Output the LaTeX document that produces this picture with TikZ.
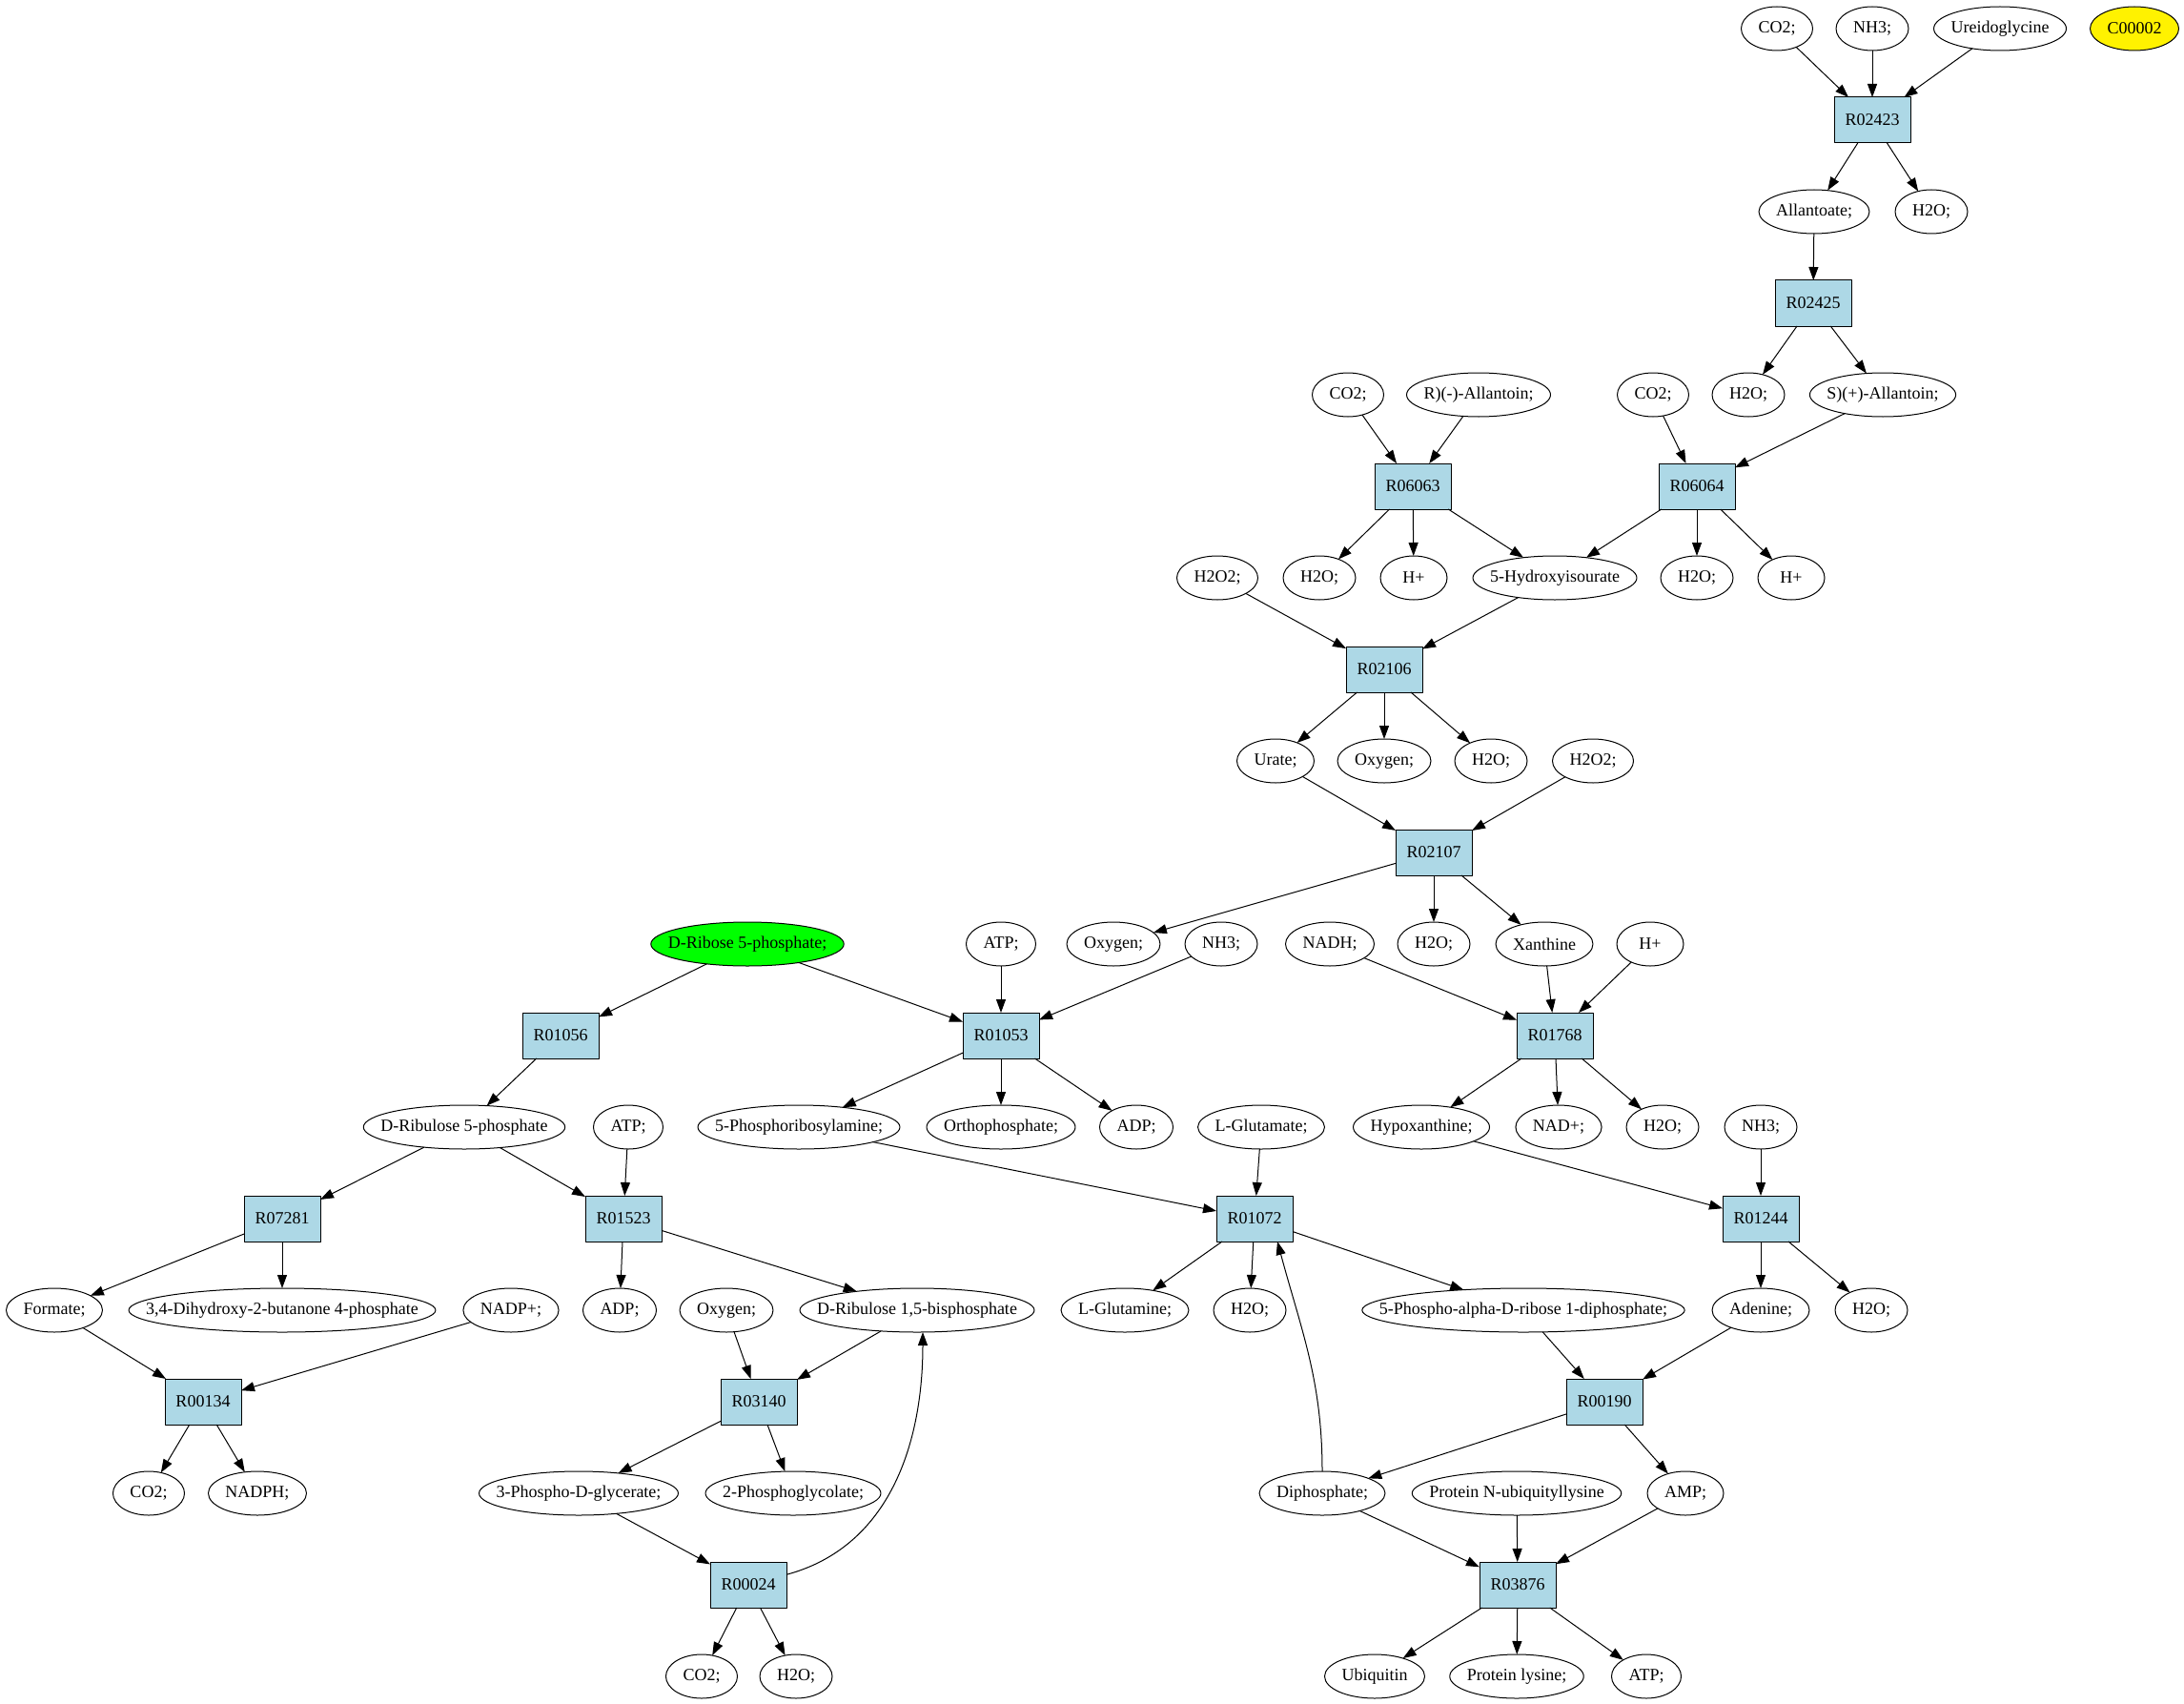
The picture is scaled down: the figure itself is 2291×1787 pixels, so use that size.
\documentclass[tikz,border=0pt]{standalone}
\usepackage{fontspec}
\setmainfont{Liberation Serif}
\usepackage{tikz}
\usetikzlibrary{shapes.geometric,arrows.meta}

\definecolor{rxnblue}{RGB}{173,216,230}
\newdimen\cpdlen
\newcommand\cpdfont{\fontsize{18}{21}\selectfont}
% label box sized so that the ellipse is the text width plus 36pt wide
\newcommand\cpdbox[1]{\setbox0\hbox{#1}\cpdlen=\wd0\relax
  \advance\cpdlen by 36pt\relax
  \ifdim\cpdlen<70pt\relax \cpdlen=70pt\relax\fi
  \cpdlen=0.7071068\cpdlen\relax
  \hbox to \cpdlen{\hss\box0\hss}}
\newcommand\cpd[4][]{\node (#2) at (#3) [cpd,#1] {\cpdbox{#4}};}

\begin{document}
\begin{tikzpicture}[x=1pt,y=-1pt,>={Triangle[length=14pt,width=10pt]},line join=bevel,line width=1pt,
  font=\cpdfont,
  cpd/.style={ellipse,draw,inner sep=0pt,minimum height=46pt,outer sep=0pt},
  rxn/.style={rectangle,draw,fill=rxnblue,minimum width=80pt,minimum height=48pt,inner sep=0pt,outer sep=0pt}]
\useasboundingbox (0,0) rectangle (2291,1787);
%%
\cpd{co2_a}{1864,30}{CO2;}
  \cpd{nh3_a}{1964,30}{NH3;}
  \cpd{ureido}{2098,30}{Ureidoglycine}
  \cpd[fill=yellow]{c00002}{2239,30}{C00002}
  \node (R02423) at (1964,126) [rxn] {R02423};
  \cpd{allantoate}{1903,222}{Allantoate;}
  \cpd{h2o_a}{2026,222}{H2O;}
  \node (R02425) at (1902,318) [rxn] {R02425};
  \cpd{co2_b}{1414,414}{CO2;}
  \cpd{r_allantoin}{1551,414}{R)(-)-Allantoin;}
  \cpd{co2_c}{1734,414}{CO2;}
  \cpd{h2o_b}{1834,414}{H2O;}
  \cpd{s_allantoin}{1975,414}{S)(+)-Allantoin;}
  \node (R06063) at (1482,510) [rxn] {R06063};
  \node (R06064) at (1780,510) [rxn] {R06064};
  \cpd{h2o2_a}{1277,606}{H2O2;}
  \cpd{h2o_c}{1384,606}{H2O;}
  \cpd{hp_a}{1483,606}{H+}
  \cpd{hydroxy}{1631,606}{5-Hydroxyisourate}
  \cpd{h2o_d}{1780,606}{H2O;}
  \cpd{hp_b}{1879,606}{H+}
  \node (R02106) at (1452,702) [rxn] {R02106};
  \cpd{urate}{1338,798}{Urate;}
  \cpd{oxygen_a}{1452,798}{Oxygen;}
  \cpd{h2o_e}{1564,798}{H2O;}
  \cpd{h2o2_b}{1671,798}{H2O2;}
  \node (R02107) at (1504,894) [rxn] {R02107};
  \cpd[fill=green]{ribose5p}{784,990}{D-Ribose 5-phosphate;}
  \cpd{atp_a}{1050,990}{ATP;}
  \cpd{oxygen_b}{1168,990}{Oxygen;}
  \cpd{nh3_b}{1281,990}{NH3;}
  \cpd{nadh}{1395,990}{NADH;}
  \cpd{h2o_f}{1504,990}{H2O;}
  \cpd{xanthine}{1620,990}{Xanthine}
  \cpd{hp_c}{1731,990}{H+}
  \node (R01056) at (588,1086) [rxn] {R01056};
  \node (R01053) at (1050,1086) [rxn] {R01053};
  \node (R01768) at (1631,1086) [rxn] {R01768};
  \cpd{ribulose5p}{487,1182}{D-Ribulose 5-phosphate}
  \cpd{atp_b}{659,1182}{ATP;}
  \cpd{pra}{838,1182}{5-Phosphoribosylamine;}
  \cpd{orthop}{1050,1182}{Orthophosphate;}
  \cpd{adp_a}{1192,1182}{ADP;}
  \cpd{lglutamate}{1323,1182}{L-Glutamate;}
  \cpd{hypox}{1491,1182}{Hypoxanthine;}
  \cpd{nad_p}{1635,1182}{NAD+;}
  \cpd{h2o_g}{1744,1182}{H2O;}
  \cpd{nh3_c}{1847,1182}{NH3;}
  \node (R07281) at (296,1278) [rxn] {R07281};
  \node (R01523) at (654,1278) [rxn] {R01523};
  \node (R01072) at (1316,1278) [rxn] {R01072};
  \node (R01244) at (1847,1278) [rxn] {R01244};
  \cpd{formate}{57,1374}{Formate;}
  \cpd{dihydroxy}{296,1374}{3,4-Dihydroxy-2-butanone 4-phosphate}
  \cpd{nadp_p}{536,1374}{NADP+;}
  \cpd{adp_b}{650,1374}{ADP;}
  \cpd{oxygen_c}{762,1374}{Oxygen;}
  \cpd{rubp}{962,1374}{D-Ribulose 1,5-bisphosphate}
  \cpd{lglutamine}{1180,1374}{L-Glutamine;}
  \cpd{h2o_h}{1311,1374}{H2O;}
  \cpd{prpp}{1598,1374}{5-Phospho-alpha-D-ribose 1-diphosphate;}
  \cpd{adenine}{1847,1374}{Adenine;}
  \cpd{h2o_i}{1963,1374}{H2O;}
  \node (R00134) at (213,1470) [rxn] {R00134};
  \node (R03140) at (796,1470) [rxn] {R03140};
  \node (R00190) at (1683,1470) [rxn] {R00190};
  \cpd{co2_d}{156,1566}{CO2;}
  \cpd{nadph}{270,1566}{NADPH;}
  \cpd{pga}{607,1566}{3-Phospho-D-glycerate;}
  \cpd{pglycolate}{832,1566}{2-Phosphoglycolate;}
  \cpd{diphos}{1387,1566}{Diphosphate;}
  \cpd{prot_nubi}{1591,1566}{Protein N-ubiquityllysine}
  \cpd{amp}{1768,1566}{AMP;}
  \node (R00024) at (785,1662) [rxn] {R00024};
  \node (R03876) at (1592,1662) [rxn] {R03876};
  \cpd{co2_e}{736,1758}{CO2;}
  \cpd{h2o_j}{835,1758}{H2O;}
  \cpd{ubiquitin}{1442,1758}{Ubiquitin}
  \cpd{prot_lys}{1591,1758}{Protein lysine;}
  \cpd{atp_c}{1727,1758}{ATP;}
%
  \draw [->] (co2_a) -- (R02423);
  \draw [->] (nh3_a) -- (R02423);
  \draw [->] (ureido) -- (R02423);
  \draw [->] (R02423) -- (allantoate);
  \draw [->] (R02423) -- (h2o_a);
  \draw [->] (allantoate) -- (R02425);
  \draw [->] (R02425) -- (h2o_b);
  \draw [->] (R02425) -- (s_allantoin);
  \draw [->] (co2_b) -- (R06063);
  \draw [->] (r_allantoin) -- (R06063);
  \draw [->] (co2_c) -- (R06064);
  \draw [->] (s_allantoin) -- (R06064);
  \draw [->] (R06063) -- (h2o_c);
  \draw [->] (R06063) -- (hp_a);
  \draw [->] (R06063) -- (hydroxy);
  \draw [->] (R06064) -- (hydroxy);
  \draw [->] (R06064) -- (h2o_d);
  \draw [->] (R06064) -- (hp_b);
  \draw [->] (h2o2_a) -- (R02106);
  \draw [->] (hydroxy) -- (R02106);
  \draw [->] (R02106) -- (urate);
  \draw [->] (R02106) -- (oxygen_a);
  \draw [->] (R02106) -- (h2o_e);
  \draw [->] (urate) -- (R02107);
  \draw [->] (h2o2_b) -- (R02107);
  \draw [->] (R02107) -- (oxygen_b);
  \draw [->] (R02107) -- (h2o_f);
  \draw [->] (R02107) -- (xanthine);
  \draw [->] (ribose5p) -- (R01056);
  \draw [->] (ribose5p) -- (R01053);
  \draw [->] (atp_a) -- (R01053);
  \draw [->] (nh3_b) -- (R01053);
  \draw [->] (nadh) -- (R01768);
  \draw [->] (xanthine) -- (R01768);
  \draw [->] (hp_c) -- (R01768);
  \draw [->] (R01056) -- (ribulose5p);
  \draw [->] (R01053) -- (pra);
  \draw [->] (R01053) -- (orthop);
  \draw [->] (R01053) -- (adp_a);
  \draw [->] (R01768) -- (hypox);
  \draw [->] (R01768) -- (nad_p);
  \draw [->] (R01768) -- (h2o_g);
  \draw [->] (ribulose5p) -- (R07281);
  \draw [->] (ribulose5p) -- (R01523);
  \draw [->] (atp_b) -- (R01523);
  \draw [->] (pra) -- (R01072);
  \draw [->] (lglutamate) -- (R01072);
  \draw [->] (hypox) -- (R01244);
  \draw [->] (nh3_c) -- (R01244);
  \draw [->] (R07281) -- (formate);
  \draw [->] (R07281) -- (dihydroxy);
  \draw [->] (R01523) -- (adp_b);
  \draw [->] (R01523) -- (rubp);
  \draw [->] (R01072) -- (lglutamine);
  \draw [->] (R01072) -- (h2o_h);
  \draw [->] (R01072) -- (prpp);
  \draw [->] (R01244) -- (adenine);
  \draw [->] (R01244) -- (h2o_i);
  \draw [->] (formate) -- (R00134);
  \draw [->] (nadp_p) -- (R00134);
  \draw [->] (oxygen_c) -- (R03140);
  \draw [->] (rubp) -- (R03140);
  \draw [->] (prpp) -- (R00190);
  \draw [->] (adenine) -- (R00190);
  \draw [->] (R00134) -- (co2_d);
  \draw [->] (R00134) -- (nadph);
  \draw [->] (R03140) -- (pga);
  \draw [->] (R03140) -- (pglycolate);
  \draw [->] (R00190) -- (diphos);
  \draw [->] (R00190) -- (amp);
  \draw [->] (pga) -- (R00024);
  \draw [->] (diphos) to[out=90,in=-75] (R01072.-45);
  \draw [->] (diphos) -- (R03876);
  \draw [->] (prot_nubi) -- (R03876);
  \draw [->] (amp) -- (R03876);
  \draw [->] (R00024) -- (co2_e);
  \draw [->] (R00024) -- (h2o_j);
  \draw [->] (R00024) to[out=15,in=-90] ([xshift=6pt]rubp.south);
  \draw [->] (R03876) -- (ubiquitin);
  \draw [->] (R03876) -- (prot_lys);
  \draw [->] (R03876) -- (atp_c);
%
\end{tikzpicture}
\end{document}
